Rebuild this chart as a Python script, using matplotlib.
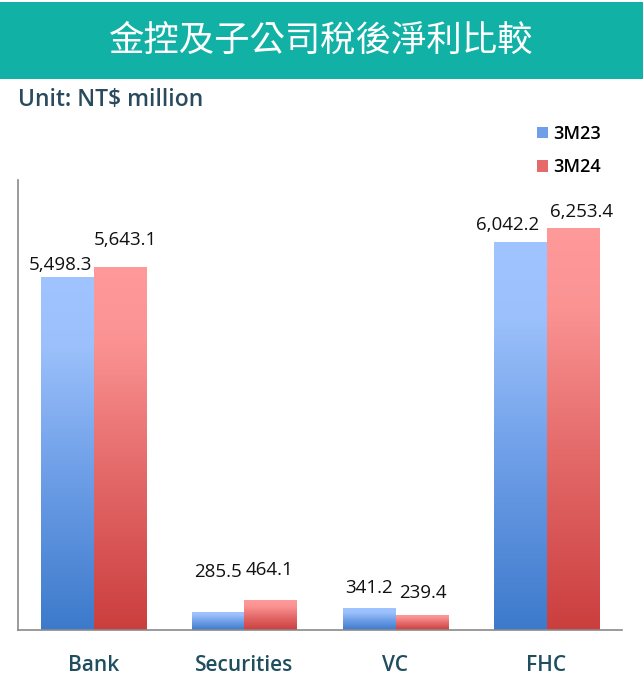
import numpy as np
import matplotlib
matplotlib.use("Agg")
from matplotlib import pyplot as plt
from matplotlib.colors import LinearSegmentedColormap
from matplotlib.patches import Rectangle, Patch

plt.rcParams['font.family'] = ['Open Sans', 'Noto Sans CJK TC', 'DejaVu Sans']

title = '金控及子公司稅後淨利比較'
unit_text = 'Unit: NT$ million'
categories = ['Bank', 'Securities', 'VC', 'FHC']
series_names = ['3M23', '3M24']
values_3m23 = [5498.3, 285.5, 341.2, 6042.2]
values_3m24 = [5643.1, 464.1, 239.4, 6253.4]
value_labels_3m23 = ['5,498.3', '285.5', '341.2', '6,042.2']
value_labels_3m24 = ['5,643.1', '464.1', '239.4', '6,253.4']

# label offsets from the bar top (pixels, dx, dy to label centre)
offsets_3m23 = [(-7, 12), (0, 40), (0, 20), (-13, 17)]
offsets_3m24 = [(6, 27), (-1, 30), (1, 22), (9, 16)]

W, H = 643, 686
fig = plt.figure(figsize=(W / 100, H / 100), dpi=100)

# title banner
fig.patches.append(Rectangle((0, 1 - 79 / H), 1, 77 / H, transform=fig.transFigure,
                             facecolor='#12b1a5', edgecolor='none', zorder=0))
fig.text(321 / W, 1 - 41 / H, title, color='white', fontsize=25.5,
         ha='center', va='center', family=['Noto Sans CJK TC', 'DejaVu Sans'])
fig.text(18 / W, 1 - 106 / H, unit_text, color='#2a4b5e', fontsize=16.5,
         fontweight='semibold', ha='left', va='baseline')

ax = fig.add_axes([18 / W, 1 - 630 / H, (622 - 18) / W, (630 - 180) / H])

blue_cmap = LinearSegmentedColormap.from_list(
    'b', [(0, '#3d7acb'), (0.45, '#6f9fe8'), (0.8, '#9bc0fb'), (1, '#a0c4ff')])
red_cmap = LinearSegmentedColormap.from_list(
    'r', [(0, '#cb3e3e'), (0.45, '#e56b6b'), (0.8, '#fb9393'), (1, '#ff9a9a')])

x = np.arange(len(categories))
width = 0.345
grad = np.linspace(0, 1, 256).reshape(-1, 1)


def gradient_bars(xpos, vals, cmap):
    bars = ax.bar(xpos, vals, width, facecolor='none', edgecolor='none')
    for b in bars:
        x0, y0 = b.get_x(), b.get_y()
        im = ax.imshow(grad, cmap=cmap, origin='lower', aspect='auto',
                       extent=[x0, x0 + b.get_width(), y0, y0 + b.get_height()],
                       zorder=2)
        im.set_clip_path(b)
    return bars


bars1 = gradient_bars(x - width / 2, values_3m23, blue_cmap)
bars2 = gradient_bars(x + width / 2, values_3m24, red_cmap)

ax.set_xlim(-0.5, len(categories) - 0.5)
ax.set_ylim(0, 7000)

for bars, labels, offs in [(bars1, value_labels_3m23, offsets_3m23),
                           (bars2, value_labels_3m24, offsets_3m24)]:
    for b, lab, (dx, dy) in zip(bars, labels, offs):
        ax.annotate(lab, (b.get_x() + b.get_width() / 2, b.get_height()),
                    xytext=(dx * 0.72, dy * 0.72), textcoords='offset points',
                    ha='center', va='center', fontsize=13.5, color='#111111')

for s in ['top', 'right']:
    ax.spines[s].set_visible(False)
for s in ['left', 'bottom']:
    ax.spines[s].set_color('#8a8a8a')
    ax.spines[s].set_linewidth(1.2)
ax.set_yticks([])
ax.set_xticks(x)
ax.set_xticklabels(categories, fontsize=15, color='#1f4e5f', fontweight='semibold')
ax.tick_params(axis='x', length=0, pad=18)

handles = [Patch(facecolor='#6f9fe8', edgecolor='none'),
           Patch(facecolor='#e56b6b', edgecolor='none')]
fig.legend(handles, series_names, loc='upper left',
           bbox_to_anchor=(537 / W, 1 - 125 / H), bbox_transform=fig.transFigure,
           frameon=False, prop={'size': 13, 'weight': 'semibold'},
           borderpad=0, borderaxespad=0,
           handlelength=0.6, handleheight=0.6, handletextpad=0.3, labelspacing=0.85)

fig.savefig('out.png', dpi=100)
